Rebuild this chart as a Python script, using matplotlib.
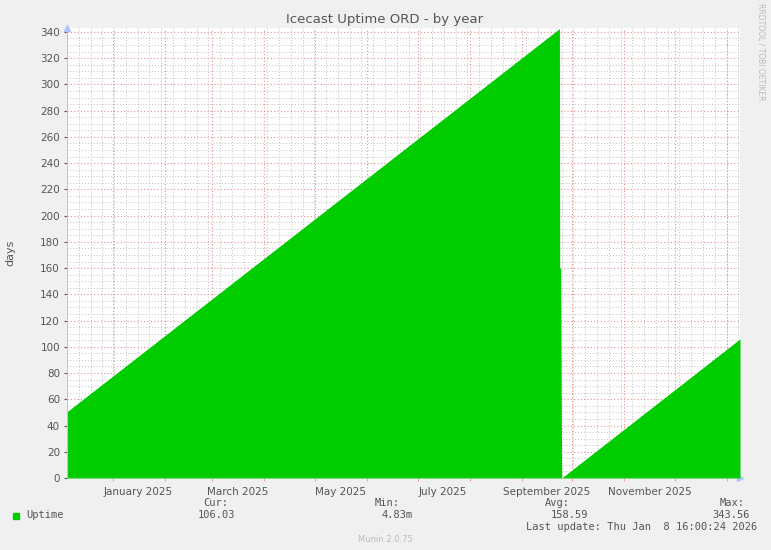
import datetime as dt

import matplotlib
matplotlib.use("Agg")
import matplotlib.pyplot as plt
import matplotlib.dates as mdates
import numpy as np

# breakpoints of the uptime series (days)
dates = [dt.datetime(2024, 12, 4, 16), dt.datetime(2025, 9, 23, 8), dt.datetime(2025, 9, 23, 12),
         dt.datetime(2025, 9, 24, 2), dt.datetime(2025, 9, 24, 16), dt.datetime(2026, 1, 8, 16)]
values = [50.5, 342.5, 160.0, 160.0, 0.0, 106.03]

start = dt.datetime(2024, 12, 4, 16)
end = dt.datetime(2026, 1, 8, 16)
month_labels = ["January 2025", "March 2025", "May 2025", "July 2025", "September 2025", "November 2025"]
label_dates = [dt.datetime(2025, m, 16) for m in (1, 3, 5, 7, 9, 11)]

W, H = 771, 550
fig = plt.figure(figsize=(W / 100, H / 100), dpi=100, facecolor="#F0F0F0")
ax = fig.add_axes([67 / W, 1 - 478 / H, (740 - 67) / W, (478 - 28) / H])
ax.set_facecolor("white")

x = mdates.date2num(dates)
ax.fill_between(x, values, 0, color="#00CC00", linewidth=0, zorder=3)

ax.set_xlim(mdates.date2num(start), mdates.date2num(end))
ax.set_ylim(0, 343)

# grid: weekly / 5-day minor in grey, months / 20 days major in red
week = mdates.date2num(start) + np.arange(0, 400, 7)
for w in week:
    ax.axvline(w, color="#C0C0C0", lw=0.7, ls=(0, (1, 2)), zorder=1)
months = [dt.datetime(2025, m, 1) for m in range(1, 13)] + [dt.datetime(2026, 1, 1)]
for m in months:
    ax.axvline(mdates.date2num(m), color="#E89090", lw=0.8, ls=(0, (1, 2)), zorder=1)
for yv in np.arange(0, 345, 5):
    if yv % 20:
        ax.axhline(yv, color="#C0C0C0", lw=0.7, ls=(0, (1, 2)), zorder=1)
for yv in np.arange(20, 345, 20):
    ax.axhline(yv, color="#E89090", lw=0.8, ls=(0, (1, 2)), zorder=1)

for s in ax.spines.values():
    s.set_visible(False)
ax.axhline(0, color="#B0C4FF", lw=0.8, zorder=4)
ax.axvline(mdates.date2num(start), color="#B0C4FF", lw=0.8, zorder=4)
ax.plot([1.0], [0], marker=">", color="#B0C4FF", ms=4, transform=ax.transAxes, clip_on=False)
ax.plot([0], [1.0], marker="^", color="#B0C4FF", ms=4, transform=ax.transAxes, clip_on=False)

ax.set_yticks(np.arange(0, 345, 20))
ax.tick_params(axis="y", length=2, colors="#555555", labelsize=7.5, pad=3)
ax.set_xticks(mdates.date2num(months))
ax.set_xticklabels([])
ax.tick_params(axis="x", length=2, color="#F0A0A0")
for d, lab in zip(label_dates, month_labels):
    ax.text(mdates.date2num(d), -7, lab, ha="center", va="top", fontsize=7.5, color="#555555")

ax.set_ylabel("days", fontsize=8, color="#555555", labelpad=18)
fig.text(385 / W, 1 - 19 / H, "Icecast Uptime ORD - by year", ha="center", va="center", fontsize=9.5, color="#555555")
fig.text(761 / W, 1 - 52 / H, "RRDTOOL / TOBI OETIKER", rotation=270, ha="center", va="center",
         fontsize=5.5, color="#BBBBBB")

mono = dict(family="DejaVu Sans Mono", fontsize=7.5, color="#555555")
fig.patches.append(plt.Rectangle((13 / W, 1 - 519 / H), 6 / W, 6 / H, color="#00CC00", transform=fig.transFigure))
fig.text(26 / W, 1 - 515 / H, "Uptime", va="center", **mono)
for xr, head in [(228, "Cur:"), (400, "Min:"), (570, "Avg:"), (745, "Max:")]:
    fig.text(xr / W, 1 - 503 / H, head, ha="right", va="center", **mono)
fig.text(235 / W, 1 - 515 / H, "106.03", ha="right", va="center", **mono)
fig.text(413 / W, 1 - 515 / H, "4.83m", ha="right", va="center", **mono)
fig.text(588 / W, 1 - 515 / H, "158.59", ha="right", va="center", **mono)
fig.text(750 / W, 1 - 515 / H, "343.56", ha="right", va="center", **mono)
fig.text(757 / W, 1 - 527 / H, "Last update: Thu Jan  8 16:00:24 2026", ha="right", va="center", **mono)
fig.text(385 / W, 1 - 539 / H, "Munin 2.0.75", ha="center", va="center", fontsize=6, color="#BBBBBB")

fig.savefig("out.png", dpi=100, facecolor=fig.get_facecolor())
